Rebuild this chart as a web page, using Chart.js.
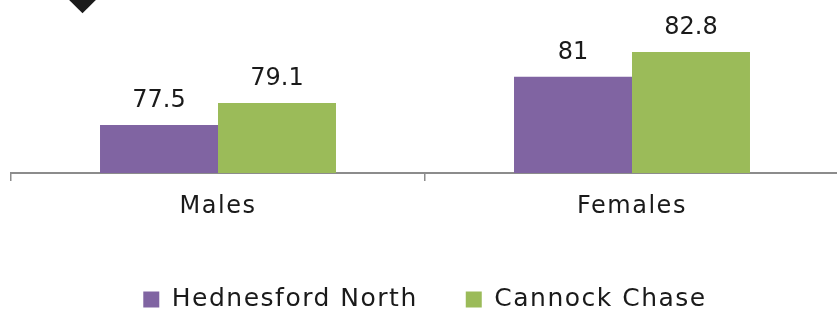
<!DOCTYPE html>
<html>
<head>
<meta charset="utf-8">
<script src="https://cdn.jsdelivr.net/npm/chart.js@4.4.1/dist/chart.umd.min.js"></script>
<style>
    html, body { margin: 0; padding: 0; background: #fff; overflow: hidden; }
    #wrap { position: relative; width: 850px; height: 313px; overflow: hidden; }
    #marker {
        position: absolute; left: 72px; top: -12px; width: 21px; height: 21px;
        background: #1b1b1b; transform: rotate(45deg);
    }
</style>
</head>
<body>
<div id="wrap">
    <canvas id="lifeChart" width="850" height="322"></canvas>
    <div id="marker"></div>
</div>
<script>
const categories = ['Males', 'Females'];
const seriesNames = ['Hednesford North', 'Cannock Chase'];
const hednesfordNorth = [77.5, 81];
const cannockChase = [79.1, 82.8];

const FONT = '"DejaVu Sans", sans-serif';

// espaçamento das letras p/ aproximar a fonte original (mais larga)
const letterSpacing = {
    id: 'letterSpacing',
    beforeUpdate(chart) { chart.ctx.letterSpacing = '1.5px'; },
    beforeDraw(chart) { chart.ctx.letterSpacing = '1.5px'; }
};

// valores em cima das barras
const valueLabels = {
    id: 'valueLabels',
    afterDatasetsDraw(chart) {
        const ctx = chart.ctx;
        ctx.save();
        ctx.letterSpacing = '0px';
        ctx.font = '24px ' + FONT;
        ctx.fillStyle = '#1a1a1a';
        ctx.textAlign = 'center';
        ctx.textBaseline = 'alphabetic';
        chart.data.datasets.forEach((ds, i) => {
            chart.getDatasetMeta(i).data.forEach((bar, j) => {
                ctx.fillText(String(ds.data[j]), bar.x, bar.y - 18);
            });
        });
        ctx.restore();
    }
};

let lifeChart;

function initChart() {
    const ctx = document.getElementById('lifeChart').getContext('2d');
    lifeChart = new Chart(ctx, {
        type: 'bar',
        data: {
            labels: categories,
            datasets: [{
                label: seriesNames[0],
                data: hednesfordNorth,
                backgroundColor: '#8064A2',
                categoryPercentage: 0.57,
                barPercentage: 1
            }, {
                label: seriesNames[1],
                data: cannockChase,
                backgroundColor: '#9BBB59',
                categoryPercentage: 0.57,
                barPercentage: 1
            }]
        },
        options: {
            animation: false,
            responsive: false,
            layout: { padding: { top: 8, left: 11, right: 11, bottom: 0 } },
            plugins: {
                legend: {
                    position: 'bottom',
                    labels: {
                        color: '#1a1a1a',
                        font: { family: FONT, size: 25 },
                        boxWidth: 16,
                        boxHeight: 16,
                        padding: 48
                    }
                },
                tooltip: { enabled: false }
            },
            scales: {
                x: {
                    grid: {
                        offset: true,
                        drawOnChartArea: false,
                        drawTicks: true,
                        tickLength: 8,
                        color: '#8c8c8c',
                        lineWidth: 1.5
                    },
                    border: { display: true, color: '#8c8c8c', width: 2 },
                    ticks: {
                        color: '#1a1a1a',
                        font: { family: FONT, size: 24 },
                        padding: 11
                    },
                    afterFit: scale => { scale.height = 66; }
                },
                y: {
                    display: false,
                    min: 74,
                    max: 86
                }
            }
        },
        plugins: [letterSpacing, valueLabels]
    });
}

initChart();
</script>
</body>
</html>
